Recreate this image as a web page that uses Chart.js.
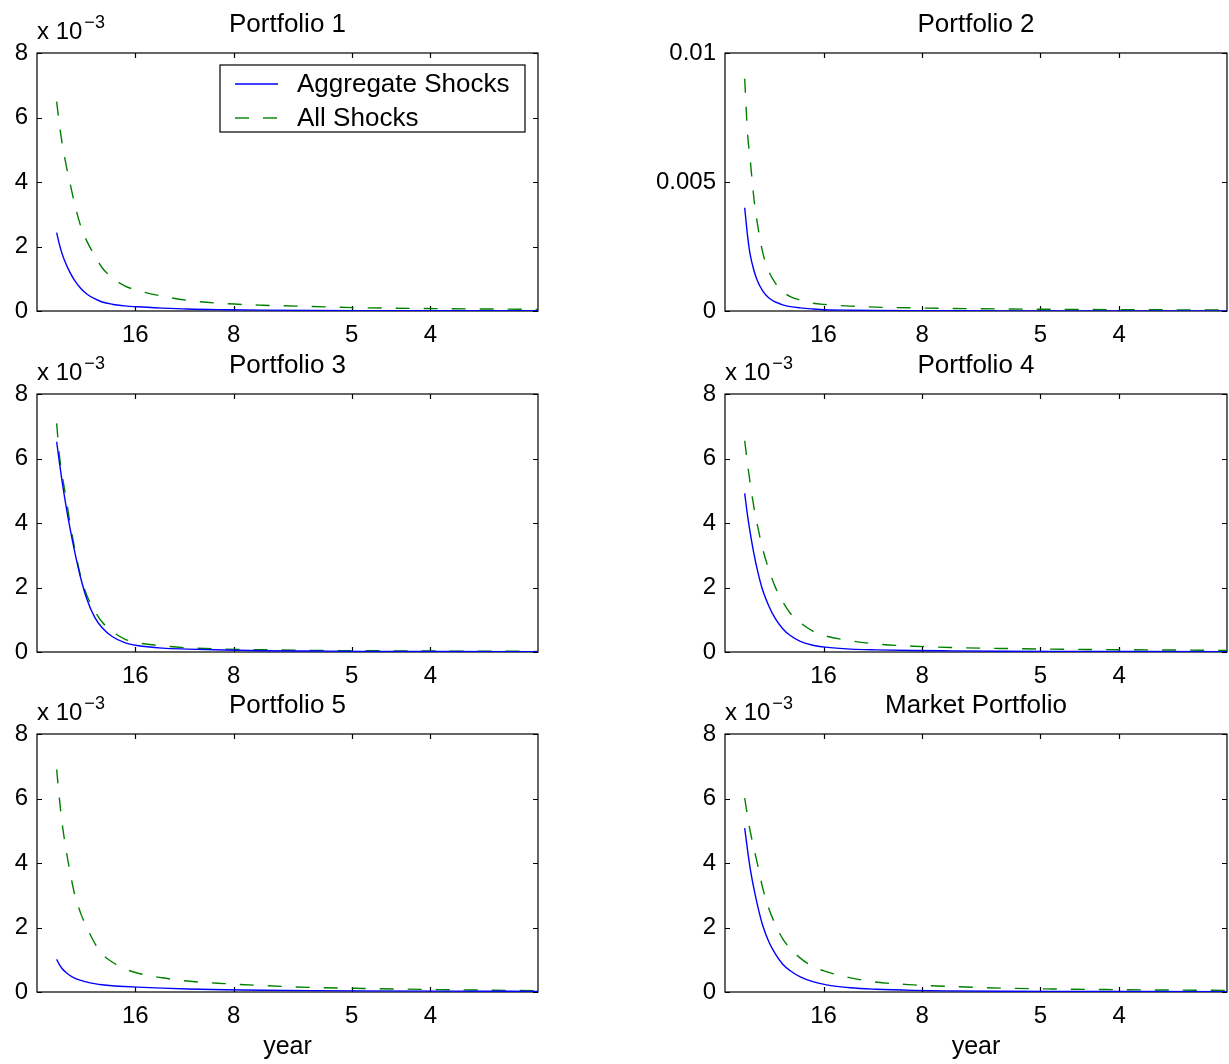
<!DOCTYPE html>
<html>
<head>
<meta charset="utf-8">
<script src="https://cdn.jsdelivr.net/npm/chart.js@4.4.0/dist/chart.umd.min.js"></script>
<style>
  body { margin: 0; background: #fff; width: 1229px; height: 1064px; overflow: hidden; position: relative; }
  .panel { position: absolute; }
</style>
</head>
<body>
<script>
// ----------------- Data -----------------
// frequency grid (radians per year); tick labels are the matching periods in years
const freq = [0.0785, 0.09, 0.1, 0.115, 0.13, 0.15, 0.175, 0.2, 0.23, 0.26, 0.3, 0.35, 0.4, 0.5, 0.6, 0.75, 0.9, 1.1, 1.3, 1.6, 2.0];
const periods = [16, 8, 5, 4];
const titles = ["Portfolio 1", "Portfolio 2", "Portfolio 3", "Portfolio 4", "Portfolio 5", "Market Portfolio"];
const seriesNames = ["Aggregate Shocks", "All Shocks"];

// spectra in units of 1e-3
const aggP1 = [2.43, 2.05, 1.78, 1.47, 1.22, 0.95, 0.70, 0.52, 0.38, 0.28, 0.21, 0.16, 0.13, 0.09, 0.06, 0.04, 0.028, 0.018, 0.013, 0.009, 0.006];
const allP1 = [6.49, 5.75, 5.22, 4.58, 4.03, 3.33, 2.62, 2.15, 1.72, 1.34, 1.03, 0.78, 0.64, 0.46, 0.33, 0.23, 0.18, 0.14, 0.10, 0.075, 0.05];
const aggP2 = [4.0, 2.9, 2.2, 1.58, 1.15, 0.78, 0.50, 0.35, 0.24, 0.17, 0.12, 0.08, 0.05, 0.03, 0.02, 0.012, 0.008, 0.005, 0.004, 0.003, 0.002];
const allP2 = [9.0, 6.85, 5.9, 4.38, 3.33, 2.28, 1.53, 1.09, 0.76, 0.56, 0.42, 0.30, 0.25, 0.19, 0.15, 0.12, 0.10, 0.08, 0.065, 0.05, 0.04];
const aggP3 = [6.52, 5.85, 5.30, 4.57, 3.91, 3.13, 2.28, 1.62, 1.08, 0.75, 0.48, 0.29, 0.20, 0.12, 0.09, 0.06, 0.04, 0.03, 0.02, 0.015, 0.01];
const allP3 = [7.09, 6.05, 5.50, 4.82, 4.08, 3.22, 2.33, 1.74, 1.28, 0.93, 0.64, 0.40, 0.29, 0.19, 0.13, 0.09, 0.07, 0.05, 0.04, 0.03, 0.02];
const aggP4 = [4.92, 4.22, 3.72, 3.06, 2.51, 1.92, 1.42, 1.04, 0.72, 0.51, 0.33, 0.21, 0.15, 0.09, 0.065, 0.045, 0.035, 0.025, 0.02, 0.015, 0.01];
const allP4 = [6.55, 5.82, 5.25, 4.50, 3.90, 3.20, 2.55, 2.02, 1.56, 1.20, 0.91, 0.65, 0.50, 0.35, 0.25, 0.18, 0.14, 0.11, 0.09, 0.07, 0.05];
const aggP5 = [1.01, 0.84, 0.73, 0.61, 0.52, 0.43, 0.36, 0.305, 0.26, 0.225, 0.195, 0.17, 0.15, 0.12, 0.095, 0.07, 0.055, 0.042, 0.034, 0.026, 0.02];
const allP5 = [6.90, 5.95, 5.25, 4.46, 3.80, 3.04, 2.43, 1.98, 1.52, 1.18, 0.93, 0.72, 0.59, 0.44, 0.34, 0.26, 0.20, 0.14, 0.11, 0.075, 0.04];
const aggMkt = [5.08, 4.39, 3.85, 3.21, 2.67, 2.07, 1.55, 1.19, 0.86, 0.66, 0.47, 0.32, 0.23, 0.13, 0.085, 0.05, 0.035, 0.025, 0.02, 0.015, 0.01];
const allMkt = [6.01, 5.45, 5.0, 4.47, 3.95, 3.23, 2.58, 2.1, 1.65, 1.35, 1.05, 0.79, 0.64, 0.44, 0.31, 0.22, 0.17, 0.12, 0.095, 0.07, 0.05];

const aggSeries = [aggP1, aggP2, aggP3, aggP4, aggP5, aggMkt];
const allSeries = [allP1, allP2, allP3, allP4, allP5, allMkt];
const yMax = [8, 10, 8, 8, 8, 8];
const yStep = [2, 5, 2, 2, 2, 2];

// ----------------- Layout -----------------
const FONT = "'Liberation Sans', Arial, Helvetica, sans-serif";
const cols = [{ left: 0, width: 540, yAxisW: 37 }, { left: 620, width: 609, yAxisW: 105 }];
const plotTops = [53, 394, 734];
const PLOT_H = 258;
const PAD_TOP = 53;

// MATLAB-like frame, inward ticks, titles and legend
const matlabAxes = {
  id: "matlabAxes",
  beforeDatasetsDraw(chart) {
    const { ctx, chartArea: a, scales: { x, y } } = chart;
    ctx.save();
    ctx.strokeStyle = "#000";
    ctx.lineWidth = 1.2;
    ctx.strokeRect(a.left, a.top, a.right - a.left, a.bottom - a.top);
    ctx.beginPath();
    x.ticks.forEach(t => {
      const px = Math.round(x.getPixelForValue(t.value)) + 0.5;
      ctx.moveTo(px, a.bottom); ctx.lineTo(px, a.bottom - 5);
      ctx.moveTo(px, a.top); ctx.lineTo(px, a.top + 5);
    });
    y.ticks.forEach(t => {
      const py = Math.round(y.getPixelForValue(t.value)) + 0.5;
      ctx.moveTo(a.left, py); ctx.lineTo(a.left + 5, py);
      ctx.moveTo(a.right, py); ctx.lineTo(a.right - 5, py);
    });
    ctx.stroke();
    ctx.restore();
  },
  afterDraw(chart, args, opts) {
    const { ctx, chartArea: a } = chart;
    ctx.save();
    ctx.fillStyle = "#000";
    ctx.textBaseline = "alphabetic";
    // title
    ctx.font = `26px ${FONT}`;
    ctx.textAlign = "center";
    ctx.fillText(opts.title, (a.left + a.right) / 2, a.top - 21);
    // exponent
    if (opts.exponent) {
      ctx.textAlign = "left";
      ctx.font = `24px ${FONT}`;
      ctx.fillText("x 10", a.left, a.top - 14);
      const w = ctx.measureText("x 10").width;
      ctx.font = `18px ${FONT}`;
      ctx.fillText("\u22123", a.left + w + 2, a.top - 25);
    }
    // x label
    if (opts.xlabel) {
      ctx.textAlign = "center";
      ctx.font = `25px ${FONT}`;
      ctx.fillText(opts.xlabel, (a.left + a.right) / 2, a.bottom + 62);
    }
    // legend
    if (opts.legend) {
      const bx = a.left + 183, by = a.top + 12, bw = 305, bh = 67;
      ctx.fillStyle = "#fff";
      ctx.fillRect(bx, by, bw, bh);
      ctx.strokeStyle = "#000";
      ctx.lineWidth = 1.2;
      ctx.strokeRect(bx, by, bw, bh);
      chart.data.datasets.forEach((ds, i) => {
        const ly = by + 19 + i * 34;
        ctx.save();
        ctx.strokeStyle = ds.borderColor;
        ctx.lineWidth = ds.borderWidth;
        ctx.setLineDash(ds.borderDash || []);
        ctx.beginPath();
        ctx.moveTo(bx + 15, ly); ctx.lineTo(bx + 58, ly);
        ctx.stroke();
        ctx.restore();
        ctx.fillStyle = "#000";
        ctx.font = `26px ${FONT}`;
        ctx.textAlign = "left";
        ctx.textBaseline = "middle";
        ctx.fillText(ds.label, bx + 77, ly + 1);
      });
    }
    ctx.restore();
  }
};

function makePanel(i) {
  const row = Math.floor(i / 2), col = cols[i % 2];
  const xAxisH = row === 2 ? 70 : 40;
  const div = document.createElement("div");
  div.className = "panel";
  div.style.left = col.left + "px";
  div.style.top = (plotTops[row] - PAD_TOP) + "px";
  const canvas = document.createElement("canvas");
  canvas.width = col.width;
  canvas.height = PAD_TOP + PLOT_H + xAxisH;
  div.appendChild(canvas);
  document.body.appendChild(div);

  new Chart(canvas.getContext("2d"), {
    type: "line",
    data: {
      datasets: [
        {
          label: seriesNames[0],
          data: freq.map((f, k) => ({ x: f, y: aggSeries[i][k] })),
          borderColor: "#0000ff",
          borderWidth: 1.4,
          pointRadius: 0,
          cubicInterpolationMode: "monotone",
          fill: false
        },
        {
          label: seriesNames[1],
          data: freq.map((f, k) => ({ x: f, y: allSeries[i][k] })),
          borderColor: "#008000",
          borderWidth: 1.4,
          borderDash: [14, 14],
          pointRadius: 0,
          cubicInterpolationMode: "monotone",
          fill: false
        }
      ]
    },
    options: {
      responsive: false,
      animation: false,
      devicePixelRatio: 1,
      layout: { padding: { top: PAD_TOP, left: 0, right: 2, bottom: 0 } },
      plugins: {
        legend: { display: false },
        tooltip: { enabled: false },
        matlabAxes: {
          title: titles[i],
          exponent: i !== 1,
          xlabel: row === 2 ? "year" : null,
          legend: i === 0
        }
      },
      scales: {
        x: {
          type: "linear",
          min: 0,
          max: 2,
          grid: { display: false, drawTicks: false },
          border: { display: false },
          afterBuildTicks: s => { s.ticks = periods.map(p => ({ value: 2 * Math.PI / p })); },
          afterFit: s => { s.height = xAxisH; s.paddingLeft = 0; s.paddingRight = 0; s.paddingTop = 0; s.paddingBottom = 0; },
          ticks: {
            autoSkip: false,
            maxRotation: 0,
            padding: 10,
            color: "#000",
            font: { family: FONT, size: 24 },
            callback: (v, k) => periods[k]
          }
        },
        y: {
          min: 0,
          max: yMax[i],
          grid: { display: false, drawTicks: false },
          border: { display: false },
          afterFit: s => { s.width = col.yAxisW; s.paddingLeft = 0; s.paddingRight = 0; s.paddingTop = 0; s.paddingBottom = 0; },
          ticks: {
            stepSize: yStep[i],
            padding: 9,
            color: "#000",
            font: { family: FONT, size: 24 },
            callback: v => (i === 1 ? String(v / 1000) : String(v))
          }
        }
      }
    },
    plugins: [matlabAxes]
  });
}

window.addEventListener("DOMContentLoaded", () => {
  titles.forEach((t, i) => makePanel(i));
});
</script>
</body>
</html>
